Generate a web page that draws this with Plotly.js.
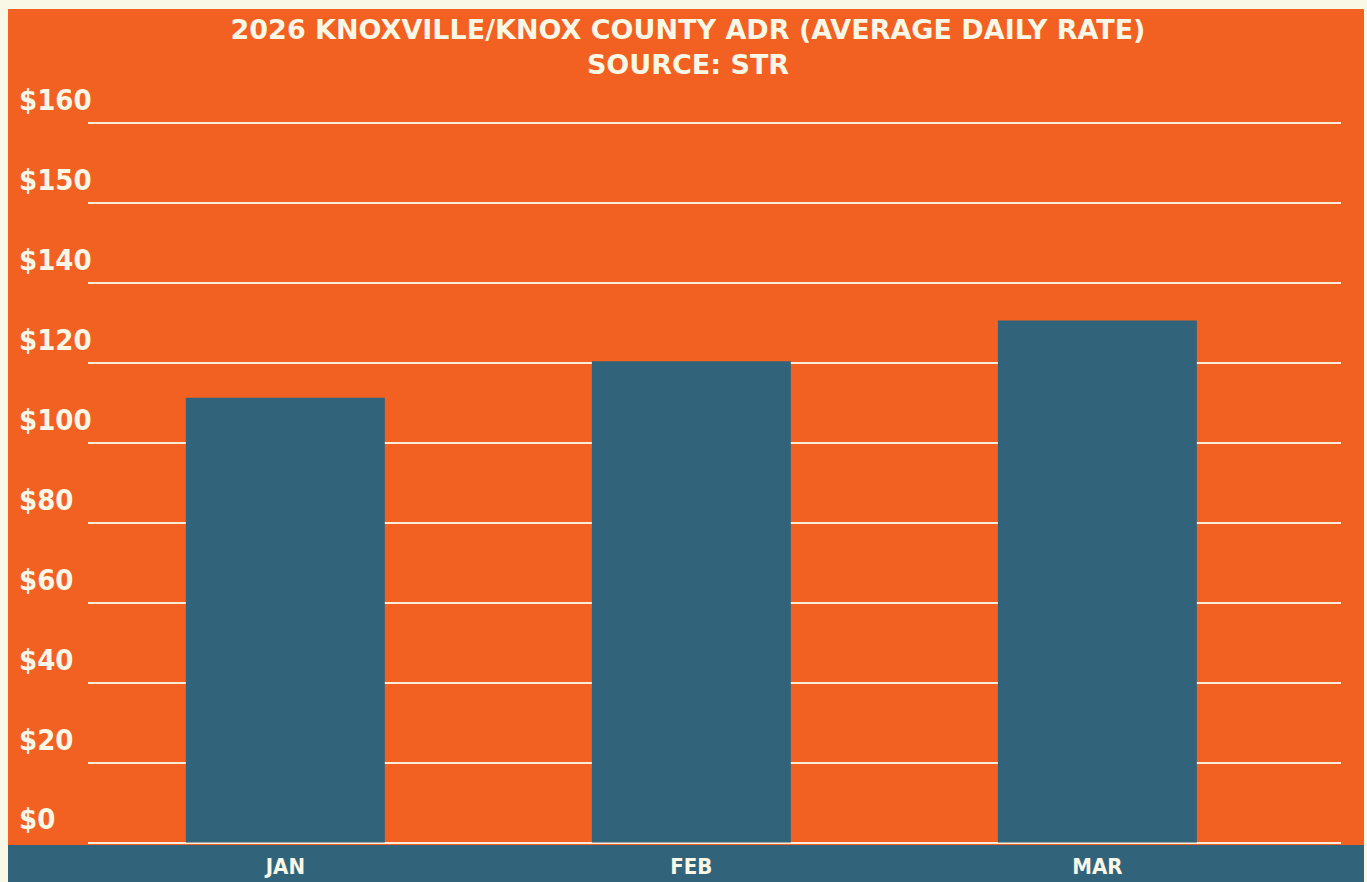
<!DOCTYPE html>
<html>
<head>
<meta charset="utf-8">
<script src="https://cdn.plot.ly/plotly-3.0.1.min.js"></script>
<style>
  html, body { margin: 0; padding: 0; background: #F9F7E6; }
  #chart { width: 1367px; height: 882px; }
</style>
</head>
<body>
<div id="chart"></div>
<script>
// ---- data ----
const months = ["JAN", "FEB", "MAR"];
const adrValues = [111.3, 120.4, 130.6];
const yTickVals = [0, 20, 40, 60, 80, 100, 120, 140, 160, 180];
const yTickText = ["$0", "$20", "$40", "$60", "$80", "$100", "$120", "$140", "$150", "$160"];
const chartTitle = "2026 KNOXVILLE/KNOX COUNTY ADR (AVERAGE DAILY RATE)<br>SOURCE: STR";

const CREAM = "#F9F7E6";
const ORANGE = "#F26022";
const BLUE = "#31647A";
const LINE = "#FCEBD8";
const CONDENSED = "DejaVu Sans Condensed, Roboto Condensed, Roboto, sans-serif";

const W = 1367, H = 882;
const mL = 18, mR = 26, mT = 119, mB = 37;
const plotW = W - mL - mR;

const trace = {
  type: "bar",
  x: months,
  y: adrValues,
  marker: { color: BLUE, line: { width: 0 } },
  width: 0.49,
  hoverinfo: "x+y"
};

const layout = {
  width: W, height: H,
  paper_bgcolor: CREAM,
  plot_bgcolor: "rgba(0,0,0,0)",
  margin: { l: mL, r: mR, t: mT, b: mB, pad: 0 },
  showlegend: false,
  title: {
    text: chartTitle,
    font: { family: "DejaVu Sans", size: 27, color: CREAM, weight: "bold" },
    xref: "container", x: 688 / W, xanchor: "center",
    yref: "container", y: 1 - 39 / H, yanchor: "top"
  },
  xaxis: {
    domain: [(88 - mL) / plotW, 1],
    range: [-0.486, 2.6],
    showgrid: false, zeroline: false, showline: false,
    ticks: "",
    tickfont: { family: CONDENSED, size: 22, color: CREAM, weight: "bold" },
    ticklabelstandoff: 6
  },
  yaxis: {
    anchor: "free", position: 0, side: "right",
    range: [-0.6, 181],
    tickvals: yTickVals,
    ticktext: yTickText,
    ticks: "",
    ticklabelposition: "outside top",
    ticklabelshift: -3,
    tickfont: { family: CONDENSED, size: 29, color: CREAM, weight: "bold" },
    showgrid: true, gridcolor: LINE, gridwidth: 2,
    zeroline: false, showline: false
  },
  shapes: [
    { type: "rect", xref: "paper", yref: "paper", layer: "below",
      x0: (8 - mL) / plotW, x1: (1364 - mL) / plotW,
      y0: -(mB - (882 - 845)) / (H - mT - mB), y1: 1 + (mT - 9) / (H - mT - mB),
      fillcolor: ORANGE, line: { width: 0 } },
    { type: "rect", xref: "paper", yref: "paper", layer: "below",
      x0: (8 - mL) / plotW, x1: (1364 - mL) / plotW,
      y0: -mB / (H - mT - mB), y1: -(845 - (H - mB)) / (H - mT - mB),
      fillcolor: BLUE, line: { width: 0 } }
  ]
};

Plotly.newPlot("chart", [trace], layout, { displayModeBar: false, staticPlot: true });
</script>
</body>
</html>
